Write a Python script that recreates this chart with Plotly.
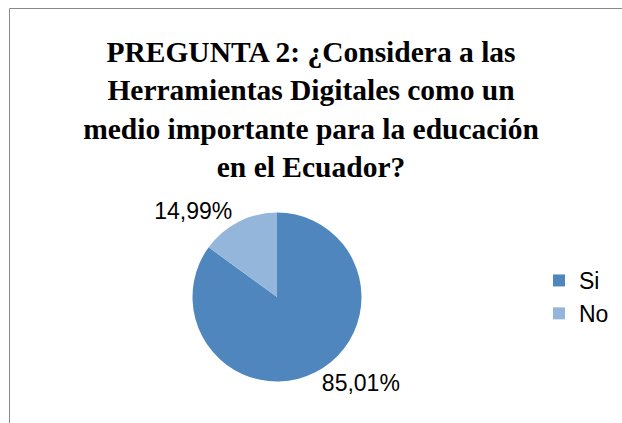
import plotly.graph_objects as go

W, H = 622, 423

title_lines = [
    "PREGUNTA 2: ¿Considera a las",
    "Herramientas Digitales como un",
    "medio importante para la educación",
    "en el Ecuador?",
]
categories = ["Si", "No"]
values = [85.01, 14.99]
colors = ["#4F86BD", "#95B6DB"]

# pie geometry (pixels)
cx, cy, r = 277, 297, 84.5

fig = go.Figure(
    go.Pie(
        labels=categories,
        values=values,
        sort=False,
        direction="clockwise",
        rotation=0,
        marker=dict(colors=colors, line=dict(width=0)),
        textposition="outside",
        texttemplate="%{percent:.2%}",
        textfont=dict(family="Liberation Sans, Arial, sans-serif", size=23, color="#000000"),
        hoverinfo="label+percent",
        domain=dict(
            x=[(cx - r) / W, (cx + r) / W],
            y=[(H - cy - r) / H, (H - cy + r) / H],
        ),
    )
)

fig.update_layout(
    width=W,
    height=H,
    separators=",.",
    paper_bgcolor="white",
    plot_bgcolor="white",
    margin=dict(l=0, r=0, t=0, b=0),
    title=dict(
        text="<b>" + "<br>".join(title_lines) + "</b>",
        x=0.5,
        xanchor="center",
        y=1 - 62 / H,
        yanchor="top",
        font=dict(family="Liberation Serif, Times New Roman, serif", size=29.5, color="#000000"),
    ),
    legend=dict(
        x=539 / W,
        xanchor="left",
        y=(H - 297) / H,
        yanchor="middle",
        font=dict(family="Liberation Sans, Arial, sans-serif", size=23, color="#000000"),
        bgcolor="rgba(0,0,0,0)",
    ),
    shapes=[
        dict(type="line", xref="paper", yref="paper",
             x0=9.5 / W, x1=1, y0=1 - 8.5 / H, y1=1 - 8.5 / H,
             line=dict(color="#898989", width=1)),
        dict(type="line", xref="paper", yref="paper",
             x0=9.5 / W, x1=9.5 / W, y0=0, y1=1 - 8.5 / H,
             line=dict(color="#898989", width=1)),
    ],
)

fig.write_html(
    "out.html",
    config={"displayModeBar": False},
    post_script="document.body.style.margin='0';document.body.style.overflow='hidden';",
)
